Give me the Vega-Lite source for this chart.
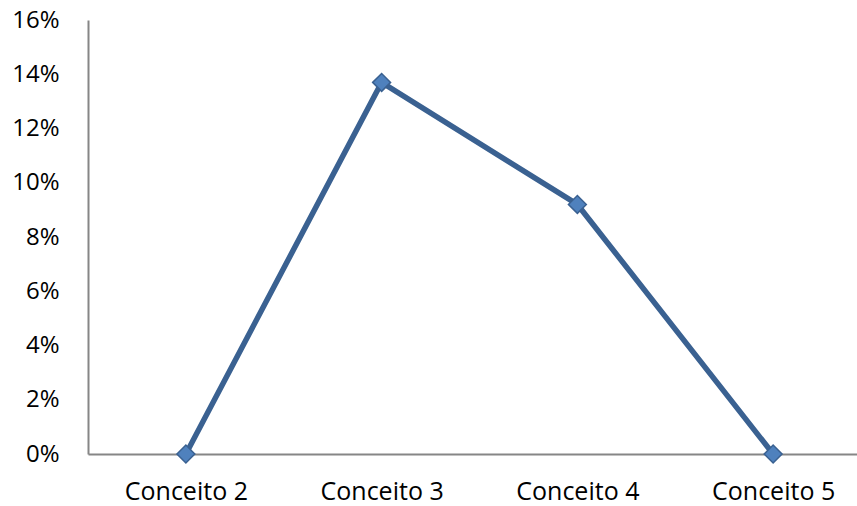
{
  "$schema": "https://vega.github.io/schema/vega-lite/v6.json",
  "autosize": "none",
  "width": 783,
  "height": 434,
  "padding": {"left": 88, "top": 20, "right": 0, "bottom": 52},
  "background": "white",
  "config": {"view": {"stroke": null}, "font": "Open Sans"},
  "data": {"values": [
    {"c": "Conceito 2", "v": 0},
    {"c": "Conceito 3", "v": 0.137},
    {"c": "Conceito 4", "v": 0.092},
    {"c": "Conceito 5", "v": 0}
  ]},
  "encoding": {
    "x": {"field": "c", "type": "nominal", "sort": null, "title": null,
      "scale": {"paddingInner": 0, "paddingOuter": 0.5},
      "axis": {"labelAngle": 0, "ticks": false, "domainColor": "#868686", "domainWidth": 2, "labelFontSize": 25, "labelColor": "#000000", "labelPadding": 25, "grid": false}},
    "y": {"field": "v", "type": "quantitative", "title": null,
      "scale": {"domain": [0, 0.16], "nice": false},
      "axis": {"format": ".0%", "values": [0,0.02,0.04,0.06,0.08,0.1,0.12,0.14,0.16], "ticks": false, "grid": false, "domainColor": "#868686", "domainWidth": 2, "labelFontSize": 24, "labelColor": "#000000", "labelPadding": 29}}
  },
  "layer": [
    {"mark": {"type": "line", "color": "#3A6191", "strokeWidth": 5.5}},
    {"mark": {"type": "point", "shape": "diamond", "filled": true, "fill": "#4F81BD", "stroke": "#3A6191", "strokeWidth": 1.5, "size": 320, "opacity": 1}}
  ]
}
